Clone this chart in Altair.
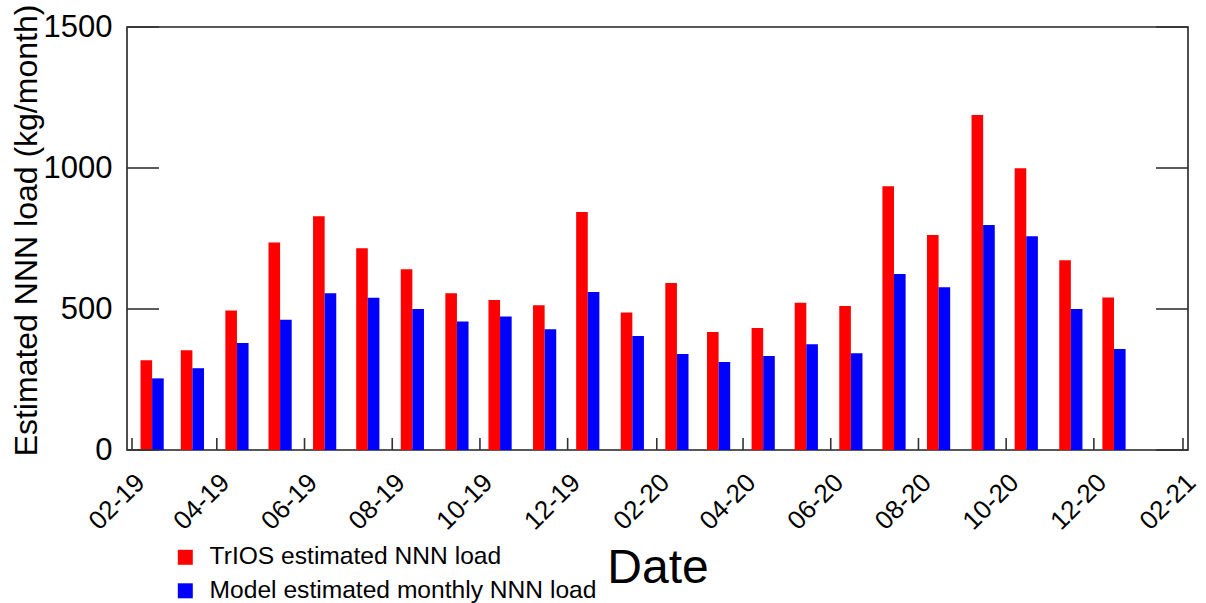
import altair as alt
import pandas as pd

# Monthly NNN loads (kg/month)
months = ["2019-02", "2019-03", "2019-04", "2019-05", "2019-06", "2019-07",
          "2019-08", "2019-09", "2019-10", "2019-11", "2019-12", "2020-01",
          "2020-02", "2020-03", "2020-04", "2020-05", "2020-06", "2020-07",
          "2020-08", "2020-09", "2020-10", "2020-11", "2020-12"]
trios_load = [318, 354, 495, 736, 829, 715, 641, 556, 532, 513, 844, 488,
              592, 418, 433, 522, 511, 935, 762, 1188, 999, 673, 541]
model_load = [254, 290, 379, 462, 556, 540, 500, 456, 473, 428, 560, 404,
              340, 312, 333, 375, 343, 624, 577, 798, 758, 500, 358]

tick_months = ["2019-02", "2019-04", "2019-06", "2019-08", "2019-10", "2019-12",
               "2020-02", "2020-04", "2020-06", "2020-08", "2020-10", "2020-12",
               "2021-02"]
y_ticks = [0, 500, 1000, 1500]

series_names = ["TrIOS estimated NNN load", "Model estimated monthly NNN load"]
series_colors = ["#ff0000", "#0000ff"]

FONT = "Liberation Sans"
W, H = 1061, 423

bars = pd.DataFrame({
    "date": [m + "-15" for m in months],
    "trios": trios_load,
    "model": model_load,
})
xticks = pd.DataFrame({"date": [m + "-01" for m in tick_months]})
yticks = pd.DataFrame({"v": y_ticks})


def month_dt(s):
    y, m = s.split("-")
    return alt.DateTime(year=int(y), month=int(m), date=1, utc=True)


x_scale = alt.Scale(type="utc", domain=[month_dt(tick_months[0]), month_dt(tick_months[-1])])
y_scale = alt.Scale(domain=[y_ticks[0], y_ticks[-1]], nice=False)

x_axis = alt.Axis(
    values=[month_dt(t) for t in tick_months],
    labelExpr="utcFormat(datum.value, '%m-%y')",
    labelAngle=315, labelAlign="right", labelBaseline="middle",
    labelPadding=28, labelOffset=8, labelFontSize=26, labelColor="black",
    labelFont=FONT, labelOverlap=False, labelFlush=False, labelBound=False,
    ticks=False, domain=False, grid=False,
    title="Date", titleFontSize=48, titleFontWeight="normal", titleFont=FONT,
    titleColor="black", titleX=W / 2, titleY=132, titleAlign="center",
    titleBaseline="alphabetic",
)
y_axis = alt.Axis(
    values=y_ticks, format="d", labelFontSize=31, labelColor="black",
    labelFont=FONT, labelPadding=15, ticks=False, domain=False, grid=False,
    title="Estimated NNN load (kg/month)", titleFontSize=32,
    titleFontWeight="normal", titleFont=FONT, titleColor="black",
    titleAngle=270, titleX=-91, titleY=203, titleAlign="center",
    titleBaseline="alphabetic",
)

color_scale = alt.Scale(domain=series_names, range=series_colors)
legend = alt.Legend(
    orient="none", legendX=46, legendY=518, title=None, padding=0,
    symbolType="square", symbolSize=225, symbolStrokeWidth=0, symbolOpacity=1,
    labelFontSize=24.6, labelFont=FONT, labelColor="black", labelOffset=12,
    labelLimit=0, rowPadding=8.5,
)
color_enc = alt.Color("series:N", scale=color_scale, legend=legend)

base = alt.Chart(bars)

red = base.transform_calculate(series=f"'{series_names[0]}'").mark_bar(
    width=11.6, xOffset=-5.8
).encode(
    x=alt.X("date:T", scale=x_scale, axis=x_axis),
    y=alt.Y("trios:Q", scale=y_scale, axis=y_axis),
    color=color_enc,
)
blue = base.transform_calculate(series=f"'{series_names[1]}'").mark_bar(
    width=11.6, xOffset=5.8
).encode(
    x=alt.X("date:T", scale=x_scale, axis=x_axis),
    y=alt.Y("model:Q", scale=y_scale, axis=y_axis),
    color=color_enc,
)

# Inward tick marks on the bottom, left and right edges of the frame
tick_style = dict(color="#333333", strokeWidth=1.6)
x_tick_marks = alt.Chart(xticks).mark_rule(**tick_style).encode(
    x=alt.X("date:T", scale=x_scale, axis=x_axis),
    y=alt.value(H), y2=alt.value(H - 12),
)
y_tick_left = alt.Chart(yticks).mark_rule(**tick_style).encode(
    y=alt.Y("v:Q", scale=y_scale, axis=y_axis),
    x=alt.value(0), x2=alt.value(32),
)
y_tick_right = alt.Chart(yticks).mark_rule(**tick_style).encode(
    y=alt.Y("v:Q", scale=y_scale, axis=y_axis),
    x=alt.value(W - 32), x2=alt.value(W),
)

chart = alt.layer(red, blue, x_tick_marks, y_tick_left, y_tick_right).properties(
    width=W, height=H,
    autosize=alt.AutoSizeParams(type="none"),
    padding={"left": 127, "top": 27, "right": 18, "bottom": 153},
    background="white",
).configure(
    font=FONT,
).configure_view(
    stroke="#222222", strokeWidth=1.6,
)

chart.save("out.html", embed_options={"renderer": "svg", "actions": False})
